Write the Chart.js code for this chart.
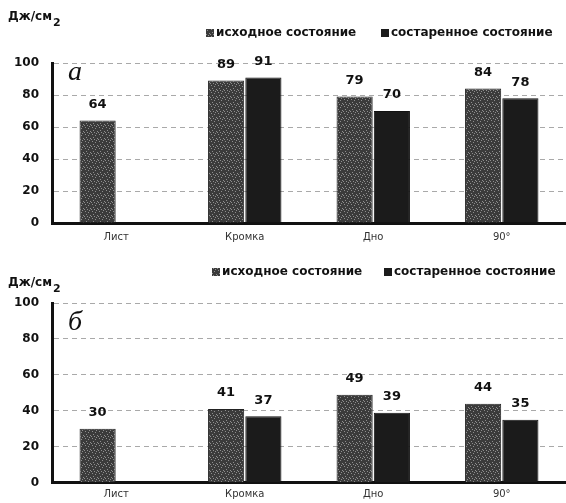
<!DOCTYPE html>
<html>
<head>
<meta charset="utf-8">
<script src="https://cdn.jsdelivr.net/npm/chart.js@4"></script>
<style>
  body { margin: 0; background: #fff; }
  .box { position: absolute; left: 0; width: 566px; }
</style>
</head>
<body>
<div class="box" style="top:0;height:250px"><canvas id="chartA"></canvas></div>
<div class="box" style="top:255px;height:248px"><canvas id="chartB"></canvas></div>
<script>
// Data
const categories = ['Лист', 'Кромка', 'Дно', '90°'];
const seriesNames = ['исходное состояние', 'состаренное состояние'];
const initialA = [64, 89, 79, 84];
const agedA = [null, 91, 70, 78];
const initialB = [30, 41, 49, 44];
const agedB = [null, 37, 39, 35];
const yTicks = [0, 20, 40, 60, 80, 100];

// speckled grey fill for the first series (like the scanned texture)
function speckle() {
  const c = document.createElement('canvas');
  c.width = 7; c.height = 7;
  const g = c.getContext('2d');
  g.fillStyle = '#3b3b3b';
  g.fillRect(0, 0, 7, 7);
  g.fillStyle = '#8e8e8e';
  [[1, 1], [4, 2], [2, 4], [6, 5], [0, 6], [5, 0], [3, 6]].forEach(p => g.fillRect(p[0], p[1], 1, 1));
  return g.createPattern(c, 'repeat');
}
const greyFill = speckle();
const blackFill = '#1b1b1b';

function makeChart(id, initial, aged, o) {
  // draws unit label, panel letter, legend and values above bars
  const extras = {
    id: 'extras',
    afterDatasetsDraw(chart) {
      const ctx = chart.ctx;
      ctx.save();
      ctx.fillStyle = '#111';
      // value labels
      ctx.font = 'bold 13px "DejaVu Sans"';
      ctx.textAlign = 'center';
      ctx.textBaseline = 'middle';
      chart.data.datasets.forEach((ds, di) => {
        chart.getDatasetMeta(di).data.forEach((bar, i) => {
          if (ds.data[i] == null) return;
          ctx.fillText(String(ds.data[i]), bar.x, bar.y - 16);
        });
      });
      // unit label Дж/см2
      ctx.textAlign = 'left';
      ctx.font = 'bold 12px "DejaVu Sans"';
      ctx.fillText('Дж/см', 8, o.unitY);
      const w = ctx.measureText('Дж/см').width;
      ctx.font = 'bold 11px "DejaVu Sans"';
      ctx.fillText('2', 8 + w + 1, o.unitY + 6);
      // panel letter
      ctx.font = 'italic 28px "Liberation Serif"';
      ctx.fillText(o.letter, 68, o.letterY);
      // legend
      ctx.font = 'bold 12px "DejaVu Sans"';
      const fills = [greyFill, blackFill];
      o.legendX.forEach((x, k) => {
        ctx.fillStyle = fills[k];
        ctx.fillRect(x, o.legendY - 4, 8, 8);
        ctx.fillStyle = '#111';
        ctx.fillText(seriesNames[k], x + 10, o.legendY);
      });
      ctx.restore();
    }
  };

  return new Chart(document.getElementById(id), {
    type: 'bar',
    data: {
      labels: categories,
      datasets: [
        { label: seriesNames[0], data: initial, backgroundColor: greyFill, borderColor: '#222', borderWidth: 1 },
        { label: seriesNames[1], data: aged, backgroundColor: blackFill, borderColor: '#111', borderWidth: 1 }
      ]
    },
    options: {
      responsive: true,
      maintainAspectRatio: false,
      animation: false,
      layout: { padding: { top: o.top, right: 0, left: 0, bottom: 0 } },
      plugins: { legend: { display: false }, tooltip: { enabled: false } },
      datasets: { bar: { categoryPercentage: 0.58, barPercentage: 0.97 } },
      scales: {
        x: {
          grid: { display: false, drawTicks: false },
          border: { color: '#111', width: 3 },
          ticks: { color: '#333', font: { family: 'DejaVu Sans', size: 10 }, padding: o.xPad },
          afterFit: s => { s.height = o.xHeight; }
        },
        y: {
          min: 0,
          max: 100,
          afterBuildTicks: s => { s.ticks = yTicks.map(v => ({ value: v })); },
          grid: { color: '#a9a9a9', lineWidth: 1, drawTicks: false },
          border: { color: '#111', width: 3, dash: [5, 4] },
          ticks: { color: '#111', font: { family: 'DejaVu Sans', size: 12, weight: 'bold' }, padding: 13 },
          afterFit: s => { s.width = 52; }
        }
      }
    },
    plugins: [extras]
  });
}

makeChart('chartA', initialA, agedA, {
  top: 63, xHeight: 27, xPad: 8,
  unitY: 17, letter: 'а', letterY: 73,
  legendY: 33, legendX: [206, 381]
});
makeChart('chartB', initialB, agedB, {
  top: 48, xHeight: 20, xPad: 6,
  unitY: 28, letter: 'б', letterY: 68,
  legendY: 17, legendX: [212, 384]
});
</script>
</body>
</html>
